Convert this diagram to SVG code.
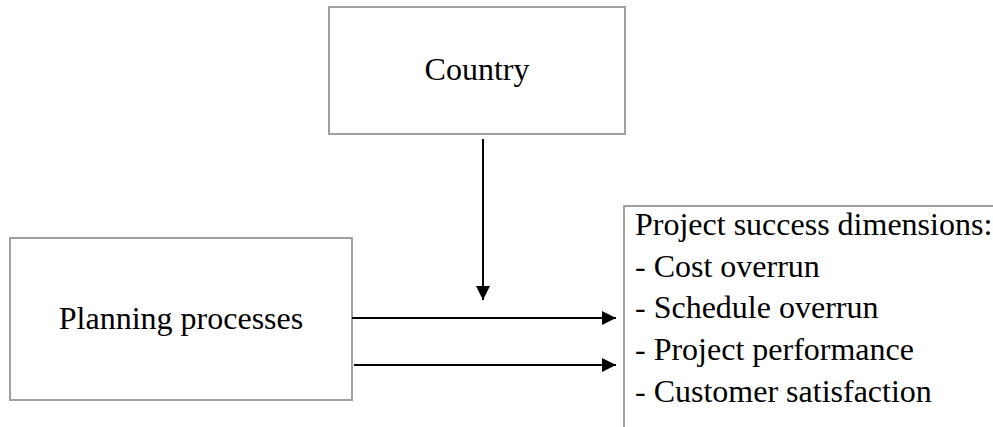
<svg xmlns="http://www.w3.org/2000/svg" width="993" height="427" viewBox="0 0 993 427">
<style>
.box{fill:#fff;stroke:#a0a0a0;stroke-width:2}
.t{font-family:"Liberation Serif","Times New Roman",serif;font-size:32px;fill:#000}
.c{text-anchor:middle}
.ln{stroke:#000;stroke-width:2;fill:none}
</style>
<defs>
<marker id="ah" viewBox="0 0 14 14" refX="14" refY="7" markerWidth="14" markerHeight="14" markerUnits="userSpaceOnUse" orient="auto">
<path d="M0,0 L14,7 L0,14 Z" fill="#000"/>
</marker>
</defs>
<rect width="993" height="427" fill="#fff"/>
<g id="country">
<rect class="box" x="329" y="7" width="296" height="127"/>
<text class="t c" x="477" y="80">Country</text>
</g>
<g id="planning">
<rect class="box" x="10" y="238" width="342" height="162"/>
<text class="t c" x="181" y="329">Planning processes</text>
</g>
<g id="success">
<rect class="box" x="624" y="206" width="400" height="260"/>
<text class="t" x="635" y="235">Project success dimensions:</text>
<text class="t" x="635" y="277">- Cost overrun</text>
<text class="t" x="635" y="318">- Schedule overrun</text>
<text class="t" x="635" y="360">- Project performance</text>
<text class="t" x="635" y="402">- Customer satisfaction</text>
</g>
<g id="connectors">
<line class="ln" x1="483" y1="139" x2="483" y2="300" marker-end="url(#ah)"/>
<line class="ln" x1="352" y1="318" x2="616" y2="318" marker-end="url(#ah)"/>
<line class="ln" x1="354" y1="365" x2="616" y2="365" marker-end="url(#ah)"/>
</g>
</svg>
